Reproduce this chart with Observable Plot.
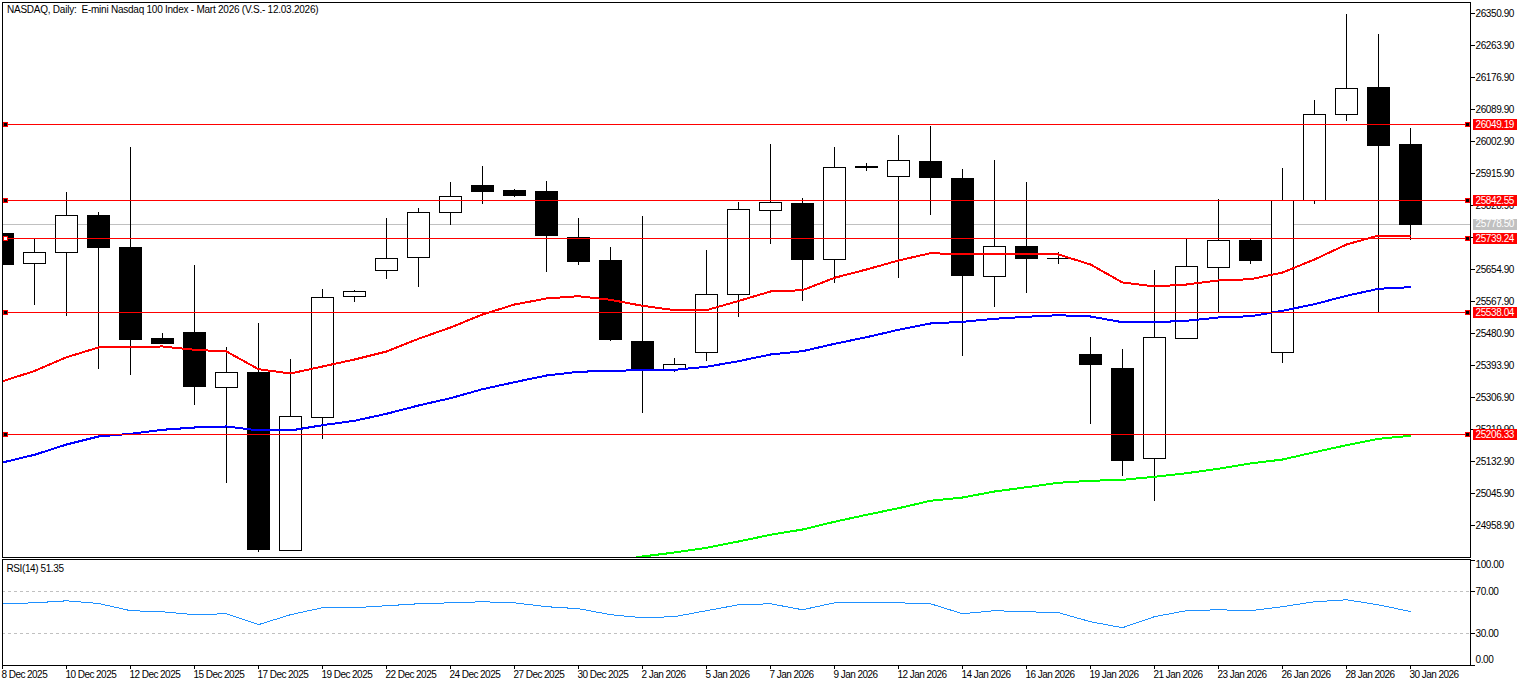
<!DOCTYPE html>
<html>
<head>
<meta charset="utf-8">
<script src="https://cdn.jsdelivr.net/npm/d3@7"></script>
<script src="https://cdn.jsdelivr.net/npm/@observablehq/plot@0.6"></script>
<style>
html,body{margin:0;padding:0;background:#fff;overflow:hidden}
svg{display:block}
svg text{letter-spacing:-0.4px;white-space:pre}
svg text[aria-label="title"]{letter-spacing:-0.24px}
g[aria-label="x-axis tick label"] text{letter-spacing:-0.55px}
g[aria-label="x-axis tick label"]{translate:-1px 0}
</style>
</head>
<body>
<div id="chart"></div>
<script>
const titleText = "NASDAQ, Daily:  E-mini Nasdaq 100 Index - Mart 2026 (V.S.- 12.03.2026)";
const rsiText = "RSI(14) 51.35";
const dateLabels = ["8 Dec 2025","10 Dec 2025","12 Dec 2025","15 Dec 2025","17 Dec 2025","19 Dec 2025","22 Dec 2025","24 Dec 2025","27 Dec 2025","30 Dec 2025","2 Jan 2026","5 Jan 2026","7 Jan 2026","9 Jan 2026","12 Jan 2026","14 Jan 2026","16 Jan 2026","19 Jan 2026","21 Jan 2026","23 Jan 2026","26 Jan 2026","28 Jan 2026","30 Jan 2026"];
const priceTicks = [26350.9,26263.9,26176.9,26089.9,26002.9,25915.9,25828.9,25741.9,25654.9,25567.9,25480.9,25393.9,25306.9,25219.9,25132.9,25045.9,24958.9];
const rsiTicks = [100,70,30,0];
const rsiGuides = [70,30];
const levels = [26049.19,25842.55,25739.24,25538.04,25206.33];
const levelLeftFill = ["black","black","white","black","black"];
const lastPrice = [25778.50];

const opens = [25752.8,25669.3,25699.2,25801.7,25714.7,25467.3,25483.6,25332.2,25374.9,24889.0,25251.7,25580.7,25650.3,25686.7,25809.1,25883.3,25869.7,25867.0,25741.9,25679.4,25459.1,25382.2,25427.3,25586.1,25814.5,25834.3,25681.3,25931.4,25906.9,25948.5,25902.3,25635.1,25717.4,25684.8,25423.8,25385.7,25139.2,25465.4,25658.4,25733.7,25427.3,25841.7,26074.4,26149.7,25994.7];
const highs = [25752.8,25737.3,25864.2,25809.9,25986.6,25480.9,25665.8,25442.8,25508.1,25410.2,25600.5,25597.8,25793.6,25820.7,25891.4,25934.9,25872.4,25894.2,25793.6,25714.7,25799.0,25412.9,25706.6,25837.1,25994.7,25847.9,25986.6,25943.1,26019.2,26043.7,25926.8,25951.2,25891.4,25701.1,25470.0,25437.4,25652.2,25739.2,25845.2,25736.5,25929.5,26114.4,26348.2,26293.8,26038.2];
const lows = [25665.8,25557.0,25527.1,25383.0,25366.7,25451.0,25285.2,25073.1,24885.5,24889.0,25192.7,25565.2,25627.7,25606.0,25774.5,25831.6,25850.7,25646.7,25665.8,25459.1,25263.4,25374.9,25404.8,25524.4,25722.9,25567.9,25616.8,25921.3,25630.4,25801.7,25418.4,25551.6,25589.7,25668.5,25233.5,25092.1,25024.1,25465.4,25538.0,25668.5,25399.3,25831.6,26057.3,25537.2,25733.7];
const closes = [25665.8,25700.3,25800.9,25712.0,25461.9,25451.0,25334.1,25374.1,24890.9,25254.4,25578.0,25594.3,25684.0,25809.1,25852.6,25864.2,25853.4,25744.6,25673.9,25461.9,25380.3,25395.8,25586.1,25817.2,25836.2,25679.4,25931.4,25932.4,25950.4,25902.3,25635.9,25716.6,25682.1,25681.3,25393.9,25132.9,25469.2,25662.2,25732.9,25676.6,25841.7,26075.5,26146.2,25989.3,25774.5];
const maRed = [25351.2,25378.9,25416.5,25442.8,25444.7,25445.6,25436.6,25432.0,25383.8,25372.2,25391.2,25410.2,25432.0,25466.5,25497.2,25532.6,25559.7,25576.1,25582.3,25572.5,25556.2,25544.3,25544.3,25569.3,25595.1,25598.6,25632.3,25654.9,25679.4,25699.2,25696.5,25695.7,25695.7,25695.7,25668.5,25619.6,25608.7,25614.1,25625.0,25628.5,25646.7,25682.1,25722.9,25747.3,25747.3];
const maBlue = [25130.2,25151.1,25179.1,25200.9,25208.2,25219.1,25225.3,25228.1,25217.2,25217.2,25231.6,25243.6,25262.6,25285.2,25305.0,25329.5,25348.5,25366.7,25376.8,25379.5,25381.1,25382.2,25390.4,25405.6,25423.8,25432.8,25452.9,25470.8,25491.0,25508.1,25512.7,25520.9,25526.3,25530.7,25527.1,25511.6,25511.6,25515.4,25524.4,25527.9,25542.6,25560.6,25583.4,25602.4,25606.8];
const maGreen = [null,null,null,null,null,null,null,null,null,null,null,null,null,null,null,null,null,null,null,24861.0,24874.6,24885.5,24898.3,24915.4,24933.6,24948.0,24969.0,24988.0,25005.9,25026.1,25035.0,25051.3,25063.0,25075.0,25080.4,25083.1,25091.3,25101.1,25113.0,25127.5,25138.3,25158.2,25177.2,25194.6,25202.8];
const rsi = [58.8,59.7,61.6,59.1,52.2,51.2,48.4,49.3,38.9,48.4,55.0,55.0,56.9,58.8,59.7,60.7,59.7,56.0,54.1,48.4,45.5,46.5,52.2,57.8,58.8,53.1,59.7,59.7,59.7,58.8,49.3,52.2,51.2,50.3,41.7,36.0,46.5,52.2,53.1,52.2,56.0,60.7,62.6,57.8,51.35];

const idx = opens.map((_, i) => i);
const bars = idx.map(i => ({i, open: opens[i], high: highs[i], low: lows[i], close: closes[i]}));
const up = bars.filter(d => d.close >= d.open);
const down = bars.filter(d => d.close < d.open);
const halfBody = 11 / 32;
const halfFill = 11.5 / 32;
const xEnd = 1468 / 32;
const xDomain = [0, xEnd];
const font = "Liberation Sans, sans-serif";
const crisp = "crispEdges";

const line = (values, stroke) => Plot.line(idx, {x: d => d, y: d => values[d], stroke, strokeWidth: 2, clip: true, shapeRendering: crisp, defined: d => values[d] != null});

const main = Plot.plot({
  width: 1528, height: 558,
  marginLeft: 2, marginRight: 58, marginTop: 2, marginBottom: 1,
  style: {background: "#fff", fontFamily: font, fontSize: "10px", color: "#000"},
  x: {domain: xDomain, range: [2, 1470], axis: null},
  y: {domain: [24871.9, 26380.8], range: [557, 2], axis: null},
  marks: [
    Plot.axisY({anchor: "right", ticks: priceTicks, tickSize: 4, tickPadding: 1, tickFormat: d => d.toFixed(2), label: null, stroke: "#000", fill: "#000", fontSize: 10, shapeRendering: crisp}),
    Plot.ruleY(lastPrice, {y: d => d, x1: 0, x2: xEnd, stroke: "#c0c0c0", clip: true, shapeRendering: crisp}),
    Plot.ruleX(bars, {x: "i", y1: "low", y2: "high", stroke: "#000", clip: true, shapeRendering: crisp}),
    Plot.rect(up, {x1: d => d.i - halfBody, x2: d => d.i + halfBody, y1: "open", y2: "close", fill: "#fff", stroke: "#000", clip: true, shapeRendering: crisp}),
    Plot.rect(down, {x1: d => d.i - halfFill, x2: d => d.i + halfFill, y1: "open", y2: "close", fill: "#000", clip: true, shapeRendering: crisp}),
    line(maGreen, "#00ff00"),
    line(maBlue, "#0000ff"),
    line(maRed, "#ff0000"),
    Plot.ruleY(levels, {y: d => d, x1: 0, x2: xEnd, stroke: "#ff0000", clip: true, shapeRendering: crisp}),
    Plot.dot(levels, {x: () => 0.094, y: d => d, symbol: "square", r: 2.2, stroke: "#ff0000", strokeWidth: 1.4, fill: (d, i) => levelLeftFill[i], shapeRendering: crisp}),
    Plot.dot(levels, {x: () => 45.78, y: d => d, symbol: "square", r: 2.2, stroke: "#ff0000", strokeWidth: 1.4, fill: "#000", shapeRendering: crisp}),
    Plot.ruleY(lastPrice, {y: d => d, x1: () => 45.97, x2: () => 47.34, stroke: "#c0c0c0", strokeWidth: 11, shapeRendering: crisp}),
    Plot.ruleY(levels, {y: d => d, x1: () => 45.97, x2: () => 47.34, stroke: "#ff0000", strokeWidth: 11, shapeRendering: crisp}),
    Plot.text(lastPrice, {x: () => xEnd, y: d => d, text: d => d.toFixed(2), dx: 5, textAnchor: "start", fill: "#fff", fontSize: 10}),
    Plot.text(levels, {x: () => xEnd, y: d => d, text: d => d.toFixed(2), dx: 5, textAnchor: "start", fill: "#fff", fontSize: 10}),
    Plot.text([titleText], {text: d => d, frameAnchor: "top-left", dx: 4.5, dy: 3, lineAnchor: "top", textAnchor: "start", fill: "#000", fontSize: 10, ariaLabel: () => "title"}),
    Plot.frame({stroke: "#000", shapeRendering: crisp})
  ]
});

const lower = Plot.plot({
  width: 1528, height: 128,
  marginLeft: 2, marginRight: 58, marginTop: 1, marginBottom: 21,
  style: {background: "#fff", fontFamily: font, fontSize: "10px", color: "#000"},
  x: {domain: xDomain, range: [2, 1470], axis: null},
  y: {domain: [0, 100.95], range: [107, 1], axis: null},
  marks: [
    Plot.axisY({anchor: "right", ticks: rsiTicks, tickSize: 4, tickPadding: 1, text: null, label: null, stroke: "#000", shapeRendering: crisp}),
    Plot.text(rsiGuides, {x: () => xEnd, y: d => d, text: d => d.toFixed(2), dx: 5, textAnchor: "start", fill: "#000", fontSize: 10}),
    Plot.text([100], {x: () => xEnd, y: d => d, text: d => d.toFixed(2), dx: 5, dy: 4, textAnchor: "start", fill: "#000", fontSize: 10}),
    Plot.text([0], {x: () => xEnd, y: d => d, text: d => d.toFixed(2), dx: 5, dy: -6, textAnchor: "start", fill: "#000", fontSize: 10}),
    Plot.ruleY(rsiGuides, {y: d => d, x1: 0, x2: xEnd, stroke: "#c0c0c0", strokeDasharray: "3,3", shapeRendering: crisp}),
    Plot.line(idx, {x: d => d, y: d => rsi[d], stroke: "#1e90ff", strokeWidth: 1, clip: true, shapeRendering: crisp}),
    Plot.axisX({anchor: "bottom", ticks: dateLabels.map((_, i) => i * 2), tickSize: 4, tickPadding: 1, textAnchor: "start", tickFormat: d => dateLabels[d / 2], label: null, stroke: "#000", fill: "#000", fontSize: 10, lineAnchor: "top", shapeRendering: crisp}),
    Plot.text([rsiText], {text: d => d, frameAnchor: "top-left", dx: 4, dy: 5, lineAnchor: "top", textAnchor: "start", fill: "#000", fontSize: 10}),
    Plot.frame({stroke: "#000", shapeRendering: crisp})
  ]
});

document.getElementById("chart").append(main, lower);
</script>
</body>
</html>
